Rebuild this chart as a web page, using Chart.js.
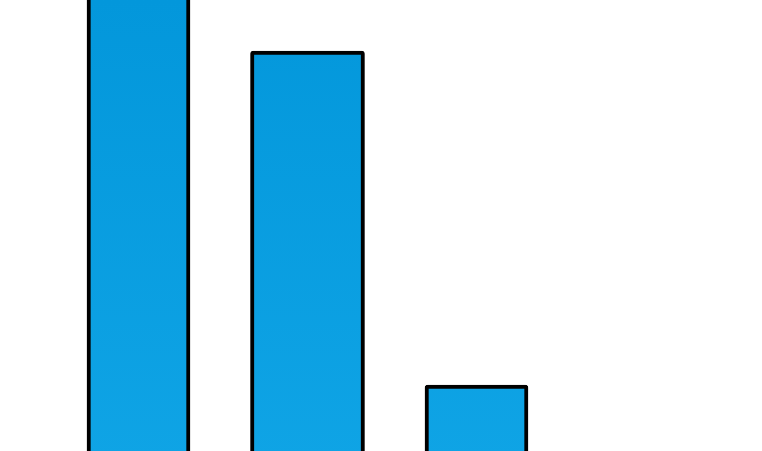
<!DOCTYPE html>
<html>
<head>
<meta charset="utf-8">
<script src="https://cdn.jsdelivr.net/npm/chart.js@4/dist/chart.umd.min.js"></script>
<style>
  html, body { margin: 0; padding: 0; background: #fff; overflow: hidden; }
  .wrap { position: relative; width: 762px; height: 500px; }
</style>
</head>
<body>
<div class="wrap"><canvas id="chart"></canvas></div>
<script>
// datos del gráfico
const categories = ['A', 'B', 'C'];
const values = [110, 89.8, 23];
const thickness = [103, 114, 103];

// gradiente vertical suave, como en la imagen
function blueFill(ctx) {
    const area = ctx.chart.chartArea;
    if (!area) return '#0599dd';
    const g = ctx.chart.ctx.createLinearGradient(0, area.top, 0, area.bottom);
    g.addColorStop(0, '#0397db');
    g.addColorStop(1, '#10a5e6');
    return g;
}

// un dataset por barra para poder dar a cada una su ancho
const datasets = categories.map((c, i) => ({
    data: categories.map((_, j) => (j === i ? values[i] : null)),
    backgroundColor: blueFill,
    borderColor: '#000',
    borderWidth: 4,
    borderRadius: 3,
    borderSkipped: 'start',
    barThickness: thickness[i]
}));

new Chart(document.getElementById('chart'), {
    type: 'bar',
    data: { labels: categories, datasets: datasets },
    options: {
        responsive: true,
        maintainAspectRatio: false,
        animation: false,
        layout: { padding: { left: 54, right: 201, top: 0, bottom: 0 } },
        datasets: { bar: { grouped: false } },
        plugins: { legend: { display: false }, tooltip: { enabled: false } },
        scales: {
            x: { display: false, offset: true },
            y: { display: false, min: 0, max: 100 }
        }
    }
});
</script>
</body>
</html>
